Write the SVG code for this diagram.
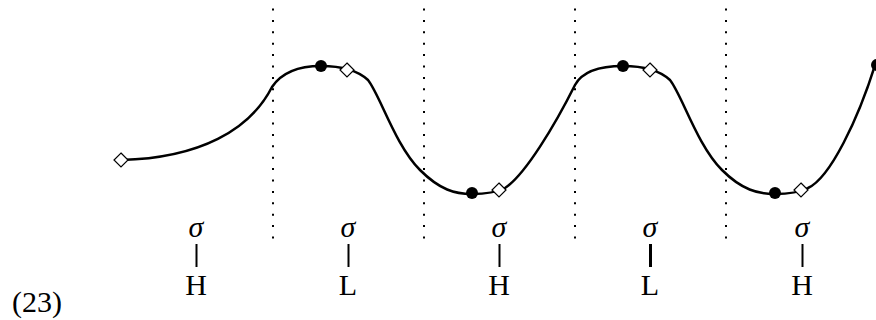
<svg xmlns="http://www.w3.org/2000/svg" width="876" height="320" viewBox="0 0 876 320">
<style>
.dot{stroke:#000;stroke-width:2;stroke-dasharray:2 9.4;fill:none}
.curve{stroke:#000;stroke-width:2.5;fill:none;stroke-linejoin:round}
.dia{fill:#fff;stroke:#000;stroke-width:1.2}
.tx{font-family:"Liberation Serif","DejaVu Serif",serif;font-size:30px;text-anchor:middle;fill:#000}
.sig{font-style:italic}
.bar{stroke:#000;stroke-width:2}
</style>
<rect width="876" height="320" fill="#fff"/>
<g id="boundaries">
<line class="dot" x1="273" y1="8.5" x2="273" y2="240"/>
<line class="dot" x1="424" y1="8.5" x2="424" y2="240"/>
<line class="dot" x1="575" y1="8.5" x2="575" y2="240"/>
<line class="dot" x1="726" y1="8.5" x2="726" y2="240"/>
</g>
<g id="connectors">
<path class="curve" d="M121,160 C200,158 250,130 272,87 C282,72 300,66 321,66 C335,66 355,68 368,80 C380,95 395,145 420,170 C440,190 455,194 472,194 C485,194 495,193 505,188 C525,175 555,125 575,85 C582,72 600,66 623,66 C637,66 657,68 670,80 C682,95 697,145 722,170 C742,190 758,194 775,194 C788,194 798,193 808,188 C830,178 858,120 876,62"/>
</g>
<g id="targets">
<circle cx="321" cy="66" r="6"/>
<circle cx="472" cy="193" r="6"/>
<circle cx="623" cy="66" r="6"/>
<circle cx="775" cy="193" r="6"/>
<circle cx="877" cy="65" r="6"/>
<path class="dia" d="M121,153 L128,160 L121,167 L114,160 Z"/>
<path class="dia" d="M347,63 L354,70 L347,77 L340,70 Z"/>
<path class="dia" d="M499,183 L506,190 L499,197 L492,190 Z"/>
<path class="dia" d="M650,63 L657,70 L650,77 L643,70 Z"/>
<path class="dia" d="M801,183 L808,190 L801,197 L794,190 Z"/>
</g>
<g id="t1"><text class="tx sig" x="196" y="237">σ</text><line class="bar" x1="196.5" y1="244" x2="196.5" y2="267"/><text class="tx" x="196" y="295">H</text></g>
<g id="t2"><text class="tx sig" x="348" y="237">σ</text><line class="bar" x1="348.5" y1="244" x2="348.5" y2="267"/><text class="tx" x="348" y="295">L</text></g>
<g id="t3"><text class="tx sig" x="499" y="237">σ</text><line class="bar" x1="499.5" y1="244" x2="499.5" y2="267"/><text class="tx" x="499" y="295">H</text></g>
<g id="t4"><text class="tx sig" x="650" y="237">σ</text><line class="bar" x1="650.5" y1="244" x2="650.5" y2="267" style="stroke-width:3"/><text class="tx" x="650" y="295">L</text></g>
<g id="t5"><text class="tx sig" x="802" y="237">σ</text><line class="bar" x1="802.5" y1="244" x2="802.5" y2="267"/><text class="tx" x="802" y="295">H</text></g>
<g id="num"><text class="tx" x="37" y="312">(23)</text></g>
</svg>
